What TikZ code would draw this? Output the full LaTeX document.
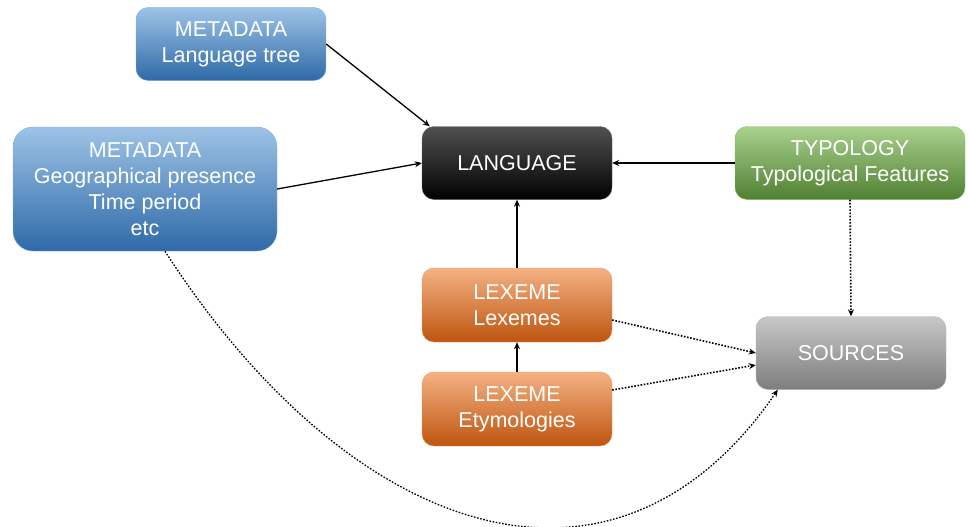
\documentclass[tikz,border=0pt]{standalone}
\usepackage{fontspec}
\setmainfont{Liberation Sans}
\usetikzlibrary{arrows.meta}

\definecolor{bluetop}{RGB}{157,195,230}
\definecolor{bluemid}{RGB}{91,155,213}
\definecolor{bluebot}{RGB}{46,106,168}
\definecolor{greentop}{RGB}{169,209,142}
\definecolor{greenmid}{RGB}{112,173,71}
\definecolor{greenbot}{RGB}{80,128,50}
\definecolor{orangetop}{RGB}{244,177,131}
\definecolor{orangemid}{RGB}{237,125,49}
\definecolor{orangebot}{RGB}{190,85,15}
\definecolor{graytop}{RGB}{200,200,200}
\definecolor{graymid}{RGB}{165,165,165}
\definecolor{graybot}{RGB}{125,125,125}

\tikzset{
	box/.style={rounded corners=12pt, align=center, text=white, inner sep=0pt,
		font=\fontsize{21.5}{26}\selectfont, minimum width=190pt, minimum height=73pt},
	metabox/.style={box, top color=bluetop, middle color=bluemid, bottom color=bluebot, draw=bluemid!80!white, thin},
	langbox/.style={box, top color=black!68, middle color=black, bottom color=black, draw=black!60, thin},
	typobox/.style={box, top color=greentop, middle color=greenmid, bottom color=greenbot, draw=greenmid!80!white, thin},
	lexbox/.style={box, top color=orangetop, middle color=orangemid, bottom color=orangebot, draw=orangemid!80!white, thin},
	srcbox/.style={box, top color=graytop, middle color=graymid, bottom color=graybot, draw=graymid!80!white, thin},
	link/.style={line width=1.3pt, -{Stealth[length=7pt, width=6pt]}},
	srclink/.style={link, line width=1.6pt, dash pattern=on 1.6pt off 1.6pt},
}

\begin{document}
\begin{tikzpicture}[x=1pt, y=-1pt]
		%%%%% START %%%%%
		\useasboundingbox (0, 0) rectangle (969, 527);
		
		\node[metabox, text depth=4pt] (meta1) at (231, 44) {METADATA\\Language tree};
		\node[metabox, rounded corners=20pt, minimum width=264pt, minimum height=124pt] (meta2) at (145, 189)
			{METADATA\\Geographical presence\\Time period\\etc};
		
		\node[langbox] (language) at (517, 163) {LANGUAGE};
		\node[typobox, minimum width=230pt] (typology) at (850, 163) {TYPOLOGY\\Typological Features};
		
		\node[lexbox, minimum height=74pt] (lexemes) at (517, 305) {LEXEME\\Lexemes};
		\node[lexbox, minimum height=74pt] (etym) at (517, 409) {LEXEME\\Etymologies};
		
		\node[srcbox] (sources) at (851, 353) {SOURCES};
		
		% solid links into LANGUAGE
		\draw[link] (meta1.east) -- ([xshift=8pt]language.north west);
		\draw[link] (meta2.east) -- (language.west);
		\draw[link] (typology.west) -- (language.east);
		\draw[link] (lexemes.north) -- (language.south);
		\draw[link] (etym.north) -- (lexemes.south);
		
		% dotted links into SOURCES
		\draw[srclink] ([yshift=-15pt]lexemes.east) -- (sources.west);
		\draw[srclink] ([yshift=19pt]etym.east) -- ([yshift=-12pt]sources.west);
		\draw[srclink] (typology.south) -- (sources.north);
		\draw[srclink, line width=1.3pt] ([xshift=20pt]meta2.south) .. controls (349, 537) and (613, 630) .. ([xshift=22pt]sources.south west);
		
		%%%%% END %%%%%
	\end{tikzpicture}
\end{document}
